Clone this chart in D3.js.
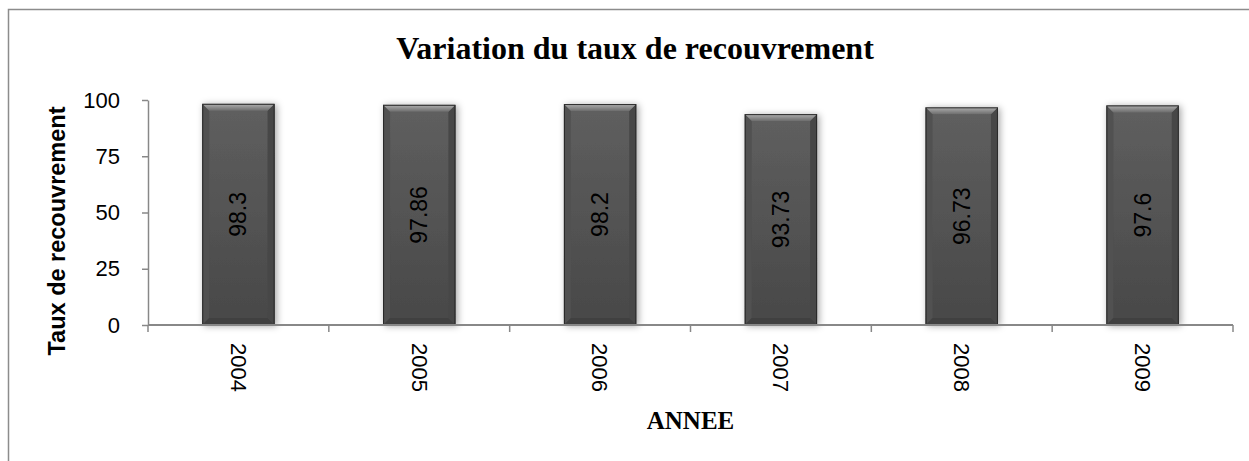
<!DOCTYPE html>
<html>
<head>
<meta charset="utf-8">
<script src="https://cdn.jsdelivr.net/npm/d3@7"></script>
<style>
  body { margin: 0; background: #fff; }
  svg { display: block; }
</style>
</head>
<body>
<svg id="chart" width="1249" height="461"></svg>
<script>
// values
const annees = ["2004", "2005", "2006", "2007", "2008", "2009"];
const taux = [98.3, 97.86, 98.2, 93.73, 96.73, 97.6];
const yTicks = [0, 25, 50, 75, 100];

const svg = d3.select("#chart");
const sans = "'Liberation Sans', Arial, sans-serif";
const serif = "'Liberation Serif', 'Times New Roman', serif";

const plot = { left: 148, right: 1233, top: 100, bottom: 325 };

const x = d3.scaleBand()
    .domain(annees)
    .range([plot.left, plot.right])
    .paddingInner(0.6)
    .paddingOuter(0.3);

const y = d3.scaleLinear()
    .domain([0, 100])
    .range([plot.bottom, plot.top]);

// defs: gradients + shadow
const defs = svg.append("defs");
const body = defs.append("linearGradient").attr("id", "barBody")
    .attr("x1", 0).attr("y1", 0).attr("x2", 0).attr("y2", 1);
body.append("stop").attr("offset", "0%").attr("stop-color", "#5f5f5f");
body.append("stop").attr("offset", "100%").attr("stop-color", "#484848");

const topBevel = defs.append("linearGradient").attr("id", "barTop")
    .attr("x1", 0).attr("y1", 0).attr("x2", 0).attr("y2", 1);
topBevel.append("stop").attr("offset", "0%").attr("stop-color", "#b0b0b0");
topBevel.append("stop").attr("offset", "100%").attr("stop-color", "#6c6c6c");

const shadow = defs.append("filter").attr("id", "shadow")
    .attr("x", "-30%").attr("y", "-10%").attr("width", "160%").attr("height", "130%");
shadow.append("feDropShadow")
    .attr("dx", 2).attr("dy", 1).attr("stdDeviation", 3.5)
    .attr("flood-color", "#000").attr("flood-opacity", 0.35);

// outer frame
svg.append("rect")
    .attr("x", 8.5).attr("y", 9.5)
    .attr("width", 1254).attr("height", 470)
    .attr("fill", "none")
    .attr("stroke", "#8c8c8c")
    .attr("stroke-width", 1.5);

// title
svg.append("text")
    .attr("x", 635).attr("y", 59)
    .attr("text-anchor", "middle")
    .style("font-family", serif)
    .style("font-weight", "bold")
    .style("font-size", "32px")
    .text("Variation du taux de recouvrement");

// bars
const b = 7;
const bars = svg.append("g").selectAll("g")
    .data(taux)
    .enter()
    .append("g")
    .attr("filter", "url(#shadow)");

bars.append("rect")
    .attr("x", (d, i) => x(annees[i]))
    .attr("y", d => y(d))
    .attr("width", x.bandwidth())
    .attr("height", d => y(0) - y(d))
    .attr("fill", "url(#barBody)");

// side bevels
bars.append("polygon")
    .attr("points", (d, i) => {
        const x0 = x(annees[i]), y0 = y(d), y1 = y(0);
        return [[x0, y0], [x0 + b, y0 + b], [x0 + b, y1 - b], [x0, y1]].join(" ");
    })
    .attr("fill", "#515151");
bars.append("polygon")
    .attr("points", (d, i) => {
        const x1 = x(annees[i]) + x.bandwidth(), y0 = y(d), y1 = y(0);
        return [[x1, y0], [x1 - b, y0 + b], [x1 - b, y1 - b], [x1, y1]].join(" ");
    })
    .attr("fill", "#474747");
bars.append("polygon")
    .attr("points", (d, i) => {
        const x0 = x(annees[i]), x1 = x0 + x.bandwidth(), y1 = y(0);
        return [[x0, y1], [x0 + b, y1 - b], [x1 - b, y1 - b], [x1, y1]].join(" ");
    })
    .attr("fill", "#414141");
bars.append("polygon")
    .attr("points", (d, i) => {
        const x0 = x(annees[i]), x1 = x0 + x.bandwidth(), y0 = y(d);
        return [[x0, y0], [x1, y0], [x1 - b, y0 + b], [x0 + b, y0 + b]].join(" ");
    })
    .attr("fill", "url(#barTop)");

bars.append("rect")
    .attr("x", (d, i) => x(annees[i]) + 0.5)
    .attr("y", d => y(d) + 0.5)
    .attr("width", x.bandwidth() - 1)
    .attr("height", d => y(0) - y(d) - 1)
    .attr("fill", "none")
    .attr("stroke", "#2a2a2a")
    .attr("stroke-width", 1);

// value labels, rotated, at bar centre
svg.append("g").selectAll("text")
    .data(taux)
    .enter()
    .append("text")
    .attr("transform", (d, i) =>
        `translate(${x(annees[i]) + x.bandwidth() / 2},${(y(d) + y(0)) / 2}) rotate(-90)`)
    .attr("text-anchor", "middle")
    .attr("dy", "0.35em")
    .style("font-family", sans)
    .style("font-size", "23px")
    .attr("fill", "#000")
    .text(d => d);

// y axis
const yAxis = svg.append("g")
    .attr("transform", `translate(${plot.left},0)`)
    .call(d3.axisLeft(y).tickValues(yTicks).tickSize(6).tickPadding(22).tickSizeOuter(0));
yAxis.select(".domain").attr("stroke", "#888").attr("stroke-width", 1.5);
yAxis.selectAll(".tick line").attr("stroke", "#888").attr("stroke-width", 1.5);
yAxis.selectAll(".tick text")
    .attr("fill", "#000")
    .style("font-family", sans)
    .style("font-size", "22px");

// x axis line + category boundary ticks
const xg = svg.append("g");
xg.append("line")
    .attr("x1", plot.left).attr("x2", plot.right)
    .attr("y1", y(0)).attr("y2", y(0))
    .attr("stroke", "#888").attr("stroke-width", 2);
xg.selectAll(".bound")
    .data(d3.range(annees.length + 1))
    .enter()
    .append("line")
    .attr("x1", i => plot.left + i * x.step())
    .attr("x2", i => plot.left + i * x.step())
    .attr("y1", y(0)).attr("y2", y(0) + 7)
    .attr("stroke", "#888").attr("stroke-width", 1.5);

xg.selectAll(".lab")
    .data(annees)
    .enter()
    .append("text")
    .attr("transform", d => `translate(${x(d) + x.bandwidth() / 2},${y(0) + 18}) rotate(90)`)
    .attr("dy", "0.35em")
    .attr("text-anchor", "start")
    .style("font-family", sans)
    .style("font-size", "22px")
    .text(d => d);

// axis titles
svg.append("text")
    .attr("x", (plot.left + plot.right) / 2).attr("y", 429)
    .attr("text-anchor", "middle")
    .style("font-family", serif)
    .style("font-weight", "bold")
    .style("font-size", "25px")
    .text("ANNEE");

svg.append("text")
    .attr("transform", "translate(65,231) rotate(-90)")
    .attr("text-anchor", "middle")
    .style("font-family", sans)
    .style("font-weight", "bold")
    .style("font-size", "23.5px")
    .text("Taux de recouvrement");
</script>
</body>
</html>
